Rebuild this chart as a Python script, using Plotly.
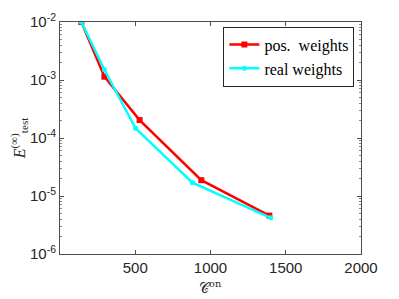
import plotly.graph_objects as go

c_pos = [142, 295, 529, 939, 1391]
e_pos = [1.0e-2, 1.14e-3, 2.04e-4, 1.87e-5, 4.6e-6]
c_real = [142, 295, 502, 880, 1400]
e_real = [1.0e-2, 1.5e-3, 1.47e-4, 1.7e-5, 4.2e-6]
ytick_vals = [1e-6, 1e-5, 1e-4, 1e-3, 1e-2]
ytick_text = ["10<sup>-6</sup>", "10<sup>-5</sup>", "10<sup>-4</sup>", "10<sup>-3</sup>", "10<sup>-2</sup>"]
xtick_vals = [500, 1000, 1500, 2000]

fig = go.Figure()
fig.add_trace(go.Scatter(x=c_pos, y=e_pos, mode="lines+markers", name="pos.  weights",
                         line=dict(color="#ff0000", width=2.5),
                         marker=dict(symbol="square", size=6, color="#ff0000")))
fig.add_trace(go.Scatter(x=c_real, y=e_real, mode="lines+markers", name="real weights",
                         line=dict(color="#00ffff", width=2.5),
                         marker=dict(symbol="circle", size=5, color="#00ffff")))

axcol = "#4d4d4d"
fig.update_layout(
    width=391, height=291,
    margin=dict(l=52, r=38, t=14, b=45),
    paper_bgcolor="white", plot_bgcolor="white",
    font=dict(family="Liberation Sans, Arial", size=12, color="#262626"),
    legend=dict(x=0.978, y=0.98, xanchor="right", yanchor="top",
                bgcolor="white", bordercolor="#262626", borderwidth=1,
                font=dict(family="Liberation Serif, DejaVu Serif", size=16, color="black"),
                tracegroupgap=0, itemwidth=30),
    xaxis=dict(range=[0, 2000], tickvals=xtick_vals, ticks="inside", ticklen=4,
               showline=True, linecolor=axcol, mirror="ticks", showgrid=False, zeroline=False,
               tickcolor=axcol, tickfont=dict(size=15), automargin=False),
    yaxis=dict(type="log", range=[-6, -2], tickvals=ytick_vals, ticktext=ytick_text,
               ticks="inside", ticklen=4, showline=True, linecolor=axcol, mirror="ticks",
               showgrid=False, zeroline=False, tickcolor=axcol, tickfont=dict(size=15),
               automargin=False,
               minor=dict(ticks="inside", ticklen=2, tickcolor="#888888", dtick="D1", showgrid=False),
               title=dict(text="<i>E</i><sup>(∞)</sup><sub>test</sub>", standoff=2,
                          font=dict(family="Liberation Serif, DejaVu Serif", size=16))),
    annotations=[dict(text="𝒞<sup>on</sup>", xref="paper", yref="paper", x=0.5, y=-0.142,
                      xanchor="center", yanchor="middle", showarrow=False,
                      font=dict(family="DejaVu Serif", size=14, color="#262626"))],
)
fig.write_html("out.html")
